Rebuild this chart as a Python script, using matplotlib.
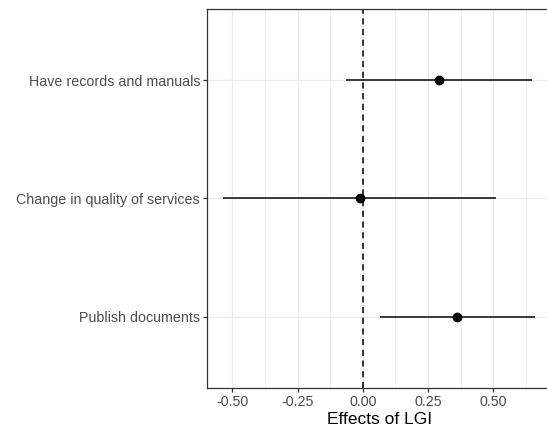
import matplotlib
matplotlib.use("Agg")
import matplotlib.pyplot as plt
from matplotlib.ticker import MultipleLocator

plt.rcParams['font.family'] = ['Liberation Sans', 'DejaVu Sans']

categories = ["Publish documents", "Change in quality of services", "Have records and manuals"]
estimates = [0.362, -0.011, 0.293]
lower = [0.065, -0.535, -0.065]
upper = [0.660, 0.510, 0.650]
xticks = [-0.50, -0.25, 0.00, 0.25, 0.50]
xtick_labels = ["-0.50", "-0.25", "0.00", "0.25", "0.50"]
xlabel = "Effects of LGI"

W, H = 547, 434
fig = plt.figure(figsize=(W / 100, H / 100), dpi=100)
left, right, top, bottom = 207, 552, 9, 387.8
x0, x1 = -0.597, -0.597 + (right - left) / 261.0
ax = fig.add_axes([left / W, (H - bottom) / H, (right - left) / W, (bottom - top) / H])

ypos = list(range(1, len(categories) + 1))
ax.set_xlim(x0, x1)
ax.set_ylim(0.4, len(categories) + 0.6)

ax.xaxis.set_minor_locator(MultipleLocator(0.125))
ax.set_xticks(xticks)
ax.set_xticklabels(xtick_labels)
ax.set_yticks(ypos)
ax.set_yticklabels(categories)
ax.grid(True, which='major', color='#ebebeb', linewidth=0.9)
ax.grid(True, which='minor', axis='x', color='#ebebeb', linewidth=0.5)
ax.set_axisbelow(True)

for s in ax.spines.values():
    s.set_color('#333333')
    s.set_linewidth(0.9)
ax.spines['right'].set_visible(False)

ax.tick_params(axis='both', which='major', length=3, width=0.9, color='#333333',
               labelcolor='#4d4d4d', labelsize=10.3, pad=2)
ax.tick_params(axis='x', which='minor', length=0)

ax.axvline(0, color='black', linestyle=(0, (4, 3)), linewidth=1.1, zorder=2)
ax.hlines(ypos, lower, upper, color='#1a1a1a', linewidth=1.2, zorder=3)
ax.plot(estimates, ypos, 'o', color='black', markersize=6, zorder=4)

ax.set_xlabel(xlabel, fontsize=12.5, color='black', labelpad=2)

fig.savefig("out.png", dpi=100)
